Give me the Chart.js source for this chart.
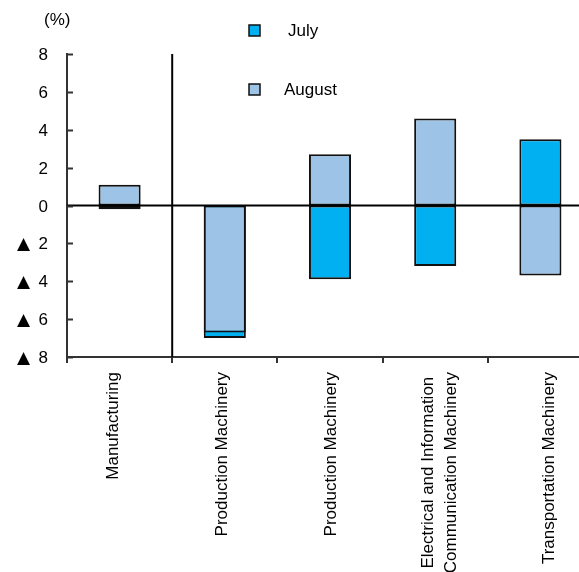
<!DOCTYPE html>
<html>
<head>
<meta charset="utf-8">
<script src="https://cdn.jsdelivr.net/npm/chart.js@4"></script>
<style>
  html, body { margin: 0; padding: 0; background: #fff; overflow: hidden; }
  #wrap { position: relative; width: 600px; height: 572px; }
</style>
</head>
<body>
<div id="wrap"><canvas id="chart"></canvas></div>
<script>
// categories and month-on-month change (%)
const categories = [
  'Manufacturing',
  'Production Machinery',
  'Production Machinery',
  ['Electrical and Information', 'Communication Machinery'],
  'Transportation Machinery'
];
const julyValues = [-0.2, -7.0, -3.9, -3.2, 3.5];
const augustValues = [1.1, -6.7, 2.7, 4.6, -3.7];
const yTicks = [-8, -6, -4, -2, 0, 2, 4, 6, 8];

const seriesNames = ['July', 'August'];
const JULY_COLOR = '#00B0F0';
const AUG_COLOR = '#9DC3E6';
const FONT = '"Liberation Sans", Arial, sans-serif';
const MARK_FONT = '"DejaVu Sans", sans-serif';

// negative values are written with a leading triangle
const tickText = v => (v < 0 ? { mark: '\u25B2', num: String(-v) } : { mark: '', num: String(v) });

// zero line, separator after the first category, axis labels, legend
const decorations = {
  id: 'decorations',
  afterDatasetsDraw(chart) {
    const { ctx, chartArea: a, scales: { x, y } } = chart;
    ctx.save();

    // zero line across the plot
    const y0 = y.getPixelForValue(0);
    ctx.strokeStyle = '#000';
    ctx.lineWidth = 2;
    ctx.beginPath();
    ctx.moveTo(a.left, y0);
    ctx.lineTo(a.right, y0);
    ctx.stroke();

    // divider between the total and the breakdown
    const xs = (x.getPixelForValue(0) + x.getPixelForValue(1)) / 2;
    ctx.beginPath();
    ctx.moveTo(xs, a.top);
    ctx.lineTo(xs, a.bottom);
    ctx.stroke();

    // short ticks pointing into the plot, labels on the left
    ctx.strokeStyle = '#333';
    ctx.fillStyle = '#000';
    ctx.textBaseline = 'middle';
    yTicks.forEach(v => {
      const py = Math.round(y.getPixelForValue(v)) + 0.5;
      ctx.beginPath();
      ctx.moveTo(a.left, py);
      ctx.lineTo(a.left + 6, py);
      ctx.stroke();

      const t = tickText(v);
      ctx.textAlign = 'right';
      ctx.font = '17px ' + FONT;
      ctx.fillText(t.num, 48, py + 1);
      if (t.mark) {
        ctx.font = '17px ' + MARK_FONT;
        ctx.fillText(t.mark, 30, py + 1);
      }
    });

    // category names, turned upright, lines centred on each other;
    // the label row fans out a little wider than the bars
    ctx.font = '17px ' + FONT;
    const top = a.bottom + 15;
    const lineH = 23;
    const fan = 3.8;
    categories.forEach((lab, i) => {
      const lines = Array.isArray(lab) ? lab : [lab];
      const widths = lines.map(s => ctx.measureText(s).width);
      const maxW = Math.max(...widths);
      const lx = x.getPixelForValue(i) + (i - 1.7) * fan;
      ctx.save();
      ctx.translate(lx, top);
      ctx.rotate(-Math.PI / 2);
      ctx.textAlign = 'right';
      lines.forEach((s, k) => {
        const off = (k - (lines.length - 1) / 2) * lineH;
        ctx.fillText(s, -(maxW - widths[k]) / 2, off);
      });
      ctx.restore();
    });

    // unit label
    ctx.textAlign = 'left';
    ctx.fillText('(%)', 44, 20);

    // legend
    const items = [
      { label: seriesNames[0], color: JULY_COLOR, bx: 249, by: 25, tx: 288, ty: 31 },
      { label: seriesNames[1], color: AUG_COLOR, bx: 249, by: 84, tx: 284, ty: 90 }
    ];
    items.forEach(it => {
      ctx.fillStyle = it.color;
      ctx.fillRect(it.bx, it.by, 11, 11);
      ctx.strokeStyle = '#111';
      ctx.lineWidth = 1.5;
      ctx.strokeRect(it.bx, it.by, 11, 11);
      ctx.fillStyle = '#000';
      ctx.fillText(it.label, it.tx, it.ty);
    });

    ctx.restore();
  }
};

new Chart(document.getElementById('chart'), {
  type: 'bar',
  data: {
    labels: categories,
    datasets: [
      {
        label: seriesNames[0],
        data: julyValues,
        backgroundColor: JULY_COLOR,
        borderColor: '#111',
        borderWidth: 2,
        borderSkipped: false,
        grouped: false,
        order: 1,
        barPercentage: 0.4,
        categoryPercentage: 1
      },
      {
        label: seriesNames[1],
        data: augustValues,
        backgroundColor: AUG_COLOR,
        borderColor: '#111',
        borderWidth: 2,
        borderSkipped: false,
        grouped: false,
        order: 0,
        barPercentage: 0.4,
        categoryPercentage: 1
      }
    ]
  },
  options: {
    responsive: true,
    maintainAspectRatio: false,
    animation: false,
    layout: { padding: { top: 54, right: 7, left: 0, bottom: 0 } },
    plugins: {
      legend: { display: false },
      tooltip: { enabled: false }
    },
    scales: {
      x: {
        grid: { drawOnChartArea: false, offset: true, color: '#333', lineWidth: 2, tickLength: 6 },
        border: { color: '#333', width: 2 },
        ticks: { display: false },
        afterFit(scale) { scale.height = 215; }
      },
      y: {
        min: -8,
        max: 8,
        afterBuildTicks(scale) { scale.ticks = yTicks.map(v => ({ value: v })); },
        grid: { display: false, drawTicks: false },
        border: { color: '#333', width: 2 },
        ticks: { display: false },
        afterFit(scale) { scale.width = 67; }
      }
    }
  },
  plugins: [decorations]
});
</script>
</body>
</html>
